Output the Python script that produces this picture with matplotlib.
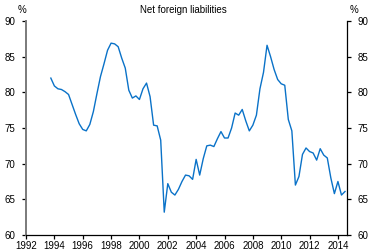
import matplotlib
matplotlib.use("Agg")
import matplotlib.pyplot as plt
import numpy as np

plt.rcParams["font.family"] = ["Liberation Sans", "DejaVu Sans"]

# quarterly, starting 1993 Q4
start_year = 1993.75
values = [
    82.0, 80.9, 80.5, 80.4, 80.1, 79.7, 78.3, 76.9, 75.6, 74.8,
    74.6, 75.5, 77.3, 79.8, 82.2, 84.0, 85.9, 86.9, 86.8, 86.4,
    84.8, 83.4, 80.3, 79.2, 79.5, 79.0, 80.5, 81.3, 79.4, 75.4,
    75.3, 73.3, 63.2, 67.2, 66.0, 65.6, 66.4, 67.5, 68.4, 68.3,
    67.8, 70.6, 68.4, 70.7, 72.5, 72.6, 72.4, 73.5, 74.5, 73.6,
    73.6, 75.0, 77.1, 76.8, 77.6, 76.0, 74.6, 75.4, 76.8, 80.5,
    82.8, 86.6, 85.0, 83.2, 81.8, 81.2, 81.0, 76.2, 74.6, 67.0,
    68.2, 71.3, 72.2, 71.7, 71.5, 70.5, 72.1, 71.2, 70.8, 68.0,
    65.8, 67.5, 65.6, 66.1,
]
years = start_year + 0.25 * np.arange(len(values))

x_ticks = list(range(1992, 2015, 2))
y_ticks = [60, 65, 70, 75, 80, 85, 90]
title = "Net foreign liabilities"

fig = plt.figure(figsize=(3.69, 2.52), dpi=100)
ax = fig.add_axes([0.0705, 0.0675, 0.8695, 0.849])
ax.plot(years, values, color="#0a72c8", lw=1.0)

ax.set_xlim(1992, 2014.63)
ax.set_ylim(60, 90)
ax.set_xticks(x_ticks)
ax.set_yticks(y_ticks)
ax.spines["top"].set_visible(False)
ax.spines["left"].set_linewidth(1.4)
ax.spines["left"].set_color("#7a7a7a")
ax.spines["right"].set_linewidth(0.9)
ax.spines["bottom"].set_linewidth(0.9)
ax.tick_params(axis="both", direction="out", length=3, width=0.9, labelsize=7)
ax.tick_params(axis="x", pad=1.5)
ax.tick_params(axis="y", right=True, labelright=True, pad=5)

ax.text(0, 1.03, "%", transform=ax.transAxes, ha="right", va="bottom", fontsize=7)
ax.text(1.01, 1.03, "%", transform=ax.transAxes, ha="left", va="bottom", fontsize=7)
ax.text(0.49, 1.03, title, transform=ax.transAxes, ha="center", va="bottom", fontsize=7)

fig.savefig("out.png", dpi=100)
